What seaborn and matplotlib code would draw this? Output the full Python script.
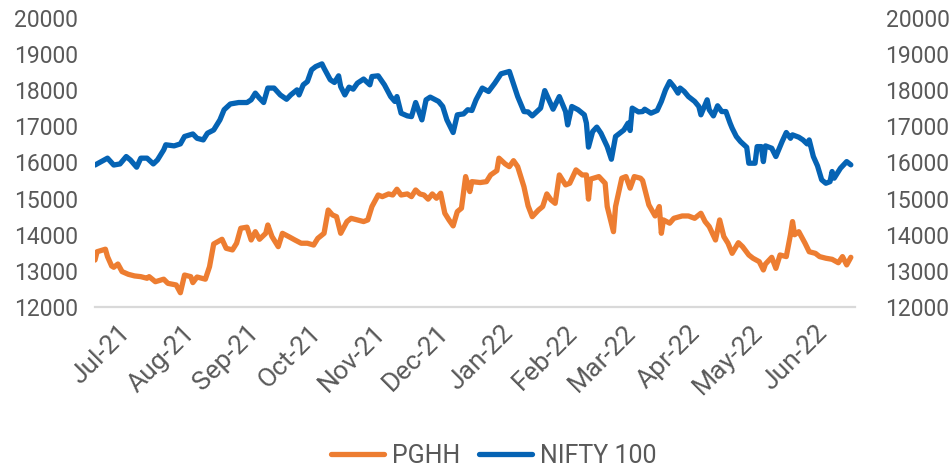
import matplotlib
matplotlib.use('Agg')
import matplotlib.pyplot as plt
import matplotlib.dates as mdates
import seaborn as sns
import pandas as pd

# ---------------- data ----------------
nifty_dates = [
    '2021-07-01', '2021-07-04', '2021-07-07', '2021-07-10', '2021-07-13', '2021-07-16',
    '2021-07-18', '2021-07-21', '2021-07-23', '2021-07-26', '2021-07-29', '2021-07-31',
    '2021-08-03', '2021-08-04', '2021-08-08', '2021-08-11', '2021-08-13', '2021-08-17',
    '2021-08-19', '2021-08-22', '2021-08-24', '2021-08-27', '2021-08-30', '2021-09-01',
    '2021-09-04', '2021-09-08', '2021-09-12', '2021-09-14', '2021-09-16', '2021-09-18',
    '2021-09-20', '2021-09-22', '2021-09-25', '2021-09-28', '2021-10-01', '2021-10-03',
    '2021-10-06', '2021-10-07', '2021-10-09', '2021-10-11', '2021-10-13', '2021-10-15',
    '2021-10-18', '2021-10-19', '2021-10-22', '2021-10-24', '2021-10-26', '2021-10-27',
    '2021-10-29', '2021-10-31', '2021-11-02', '2021-11-04', '2021-11-07', '2021-11-10',
    '2021-11-11', '2021-11-14', '2021-11-17', '2021-11-20', '2021-11-22', '2021-11-23',
    '2021-11-25', '2021-11-28', '2021-11-30', '2021-12-02', '2021-12-05', '2021-12-07',
    '2021-12-09', '2021-12-13', '2021-12-15', '2021-12-17', '2021-12-20', '2021-12-22',
    '2021-12-25', '2021-12-27', '2021-12-29', '2021-12-31', '2022-01-03', '2022-01-06',
    '2022-01-09', '2022-01-12', '2022-01-16', '2022-01-20', '2022-01-23', '2022-01-25',
    '2022-01-27', '2022-01-31', '2022-02-02', '2022-02-04', '2022-02-06', '2022-02-09',
    '2022-02-12', '2022-02-13', '2022-02-15', '2022-02-18', '2022-02-21', '2022-02-22',
    '2022-02-23', '2022-02-25', '2022-02-27', '2022-03-01', '2022-03-04', '2022-03-06',
    '2022-03-08', '2022-03-12', '2022-03-14', '2022-03-15', '2022-03-16', '2022-03-19',
    '2022-03-21', '2022-03-22', '2022-03-25', '2022-03-28', '2022-03-30', '2022-04-01',
    '2022-04-03', '2022-04-05', '2022-04-07', '2022-04-08', '2022-04-10', '2022-04-12',
    '2022-04-15', '2022-04-17', '2022-04-18', '2022-04-21', '2022-04-22', '2022-04-24',
    '2022-04-26', '2022-04-28', '2022-04-30', '2022-05-02', '2022-05-03', '2022-05-05',
    '2022-05-07', '2022-05-10', '2022-05-11', '2022-05-14', '2022-05-15', '2022-05-17',
    '2022-05-18', '2022-05-19', '2022-05-22', '2022-05-24', '2022-05-27', '2022-05-29',
    '2022-05-31', '2022-06-01', '2022-06-04', '2022-06-06', '2022-06-08', '2022-06-09',
    '2022-06-11', '2022-06-13', '2022-06-15', '2022-06-17', '2022-06-19', '2022-06-20',
    '2022-06-21', '2022-06-24', '2022-06-27', '2022-06-29',
]
nifty_values = [
    15930, 16025, 16120, 15930, 15960, 16165,
    16070, 15870, 16120, 16120, 15960, 16070,
    16350, 16490, 16460, 16515, 16720, 16790,
    16670, 16625, 16810, 16900, 17180, 17460,
    17620, 17660, 17660, 17735, 17920, 17780,
    17660, 18060, 18060, 17870, 17750, 17870,
    18010, 17870, 18150, 18240, 18565, 18655,
    18730, 18610, 18290, 18215, 18400, 18100,
    17870, 18085, 18030, 18195, 18310, 18150,
    18380, 18400, 18150, 17825, 17690, 17825,
    17365, 17290, 17270, 17660, 17180, 17735,
    17810, 17690, 17550, 17180, 16830, 17320,
    17345, 17460, 17440, 17735, 18060, 17965,
    18195, 18455, 18520, 17825, 17410, 17400,
    17290, 17505, 17990, 17735, 17475, 17825,
    17410, 17040, 17550, 17460, 17320, 17090,
    16425, 16855, 16980, 16810, 16440, 16090,
    16720, 16900, 17090, 16885, 17505, 17400,
    17410, 17475, 17365, 17440, 17690, 18010,
    18240, 18100, 17920, 18060, 17965, 17825,
    17690, 17550, 17320, 17735, 17460, 17290,
    17570, 17410, 17410, 17090, 16950, 16720,
    16580, 16420, 15980, 15980, 16440, 16440,
    16025, 16460, 16395, 16165, 16580, 16830,
    16670, 16765, 16700, 16625, 16515, 16625,
    16165, 15905, 15520, 15425, 15470, 15750,
    15565, 15840, 16025, 15935,
]

pghh_dates = [
    '2021-07-01', '2021-07-02', '2021-07-06', '2021-07-07', '2021-07-09', '2021-07-10',
    '2021-07-12', '2021-07-14', '2021-07-17', '2021-07-20', '2021-07-23', '2021-07-26',
    '2021-07-27', '2021-07-30', '2021-08-03', '2021-08-05', '2021-08-09', '2021-08-11',
    '2021-08-13', '2021-08-16', '2021-08-17', '2021-08-19', '2021-08-23', '2021-08-25',
    '2021-08-27', '2021-08-29', '2021-08-31', '2021-09-02', '2021-09-05', '2021-09-07',
    '2021-09-09', '2021-09-12', '2021-09-14', '2021-09-16', '2021-09-18', '2021-09-21',
    '2021-09-22', '2021-09-24', '2021-09-27', '2021-09-29', '2021-10-02', '2021-10-05',
    '2021-10-08', '2021-10-11', '2021-10-14', '2021-10-16', '2021-10-19', '2021-10-21',
    '2021-10-23', '2021-10-25', '2021-10-27', '2021-10-30', '2021-11-01', '2021-11-04',
    '2021-11-07', '2021-11-09', '2021-11-11', '2021-11-14', '2021-11-16', '2021-11-19',
    '2021-11-21', '2021-11-23', '2021-11-25', '2021-11-28', '2021-11-30', '2021-12-02',
    '2021-12-04', '2021-12-06', '2021-12-08', '2021-12-10', '2021-12-12', '2021-12-14',
    '2021-12-16', '2021-12-18', '2021-12-20', '2021-12-22', '2021-12-24', '2021-12-26',
    '2021-12-28', '2021-12-29', '2022-01-02', '2022-01-05', '2022-01-07', '2022-01-10',
    '2022-01-11', '2022-01-14', '2022-01-16', '2022-01-18', '2022-01-20', '2022-01-23',
    '2022-01-25', '2022-01-27', '2022-01-30', '2022-02-01', '2022-02-03', '2022-02-05',
    '2022-02-07', '2022-02-09', '2022-02-12', '2022-02-14', '2022-02-17', '2022-02-20',
    '2022-02-22', '2022-02-23', '2022-02-24', '2022-02-28', '2022-03-03', '2022-03-04',
    '2022-03-07', '2022-03-08', '2022-03-11', '2022-03-13', '2022-03-15', '2022-03-17',
    '2022-03-20', '2022-03-21', '2022-03-23', '2022-03-24', '2022-03-27', '2022-03-29',
    '2022-03-30', '2022-03-31', '2022-04-03', '2022-04-05', '2022-04-09', '2022-04-12',
    '2022-04-15', '2022-04-18', '2022-04-20', '2022-04-22', '2022-04-25', '2022-04-27',
    '2022-04-29', '2022-05-01', '2022-05-03', '2022-05-06', '2022-05-08', '2022-05-11',
    '2022-05-13', '2022-05-16', '2022-05-18', '2022-05-19', '2022-05-22', '2022-05-24',
    '2022-05-26', '2022-05-29', '2022-05-31', '2022-06-01', '2022-06-02', '2022-06-04',
    '2022-06-07', '2022-06-09', '2022-06-12', '2022-06-14', '2022-06-17', '2022-06-20',
    '2022-06-23', '2022-06-25', '2022-06-27', '2022-06-29',
]
pghh_values = [
    13300, 13530, 13600, 13395, 13135, 13100,
    13190, 12980, 12905, 12860, 12840, 12795,
    12840, 12700, 12770, 12655, 12610, 12395,
    12885, 12840, 12675, 12830, 12770, 13115,
    13745, 13810, 13875, 13625, 13580, 13765,
    14180, 14210, 13855, 14085, 13875, 14040,
    14270, 13950, 13670, 14040, 13950, 13855,
    13765, 13765, 13715, 13900, 14040, 14685,
    14550, 14500, 14040, 14365, 14455, 14410,
    14365, 14410, 14780, 15100, 15055, 15130,
    15100, 15260, 15100, 15130, 15055, 15240,
    15130, 15100, 14985, 15130, 15010, 15150,
    14595, 14410, 14245, 14640, 14735, 15610,
    15195, 15470, 15445, 15470, 15655, 15775,
    16120, 15960, 15885, 16050, 15885, 15330,
    14800, 14500, 14685, 14780, 15130, 14965,
    14870, 15655, 15380, 15425, 15795, 15655,
    15655, 14985, 15540, 15610, 15425, 14780,
    14085, 14780, 15565, 15610, 15290, 15610,
    15565, 15500, 15055, 14825, 14520, 14780,
    14040, 14410, 14320, 14455, 14520, 14520,
    14455, 14595, 14365, 14225, 13855, 14410,
    13950, 13765, 13485, 13780, 13670, 13440,
    13350, 13255, 13025, 13190, 13375, 13070,
    13440, 13395, 14000, 14365, 14000, 14085,
    13765, 13530, 13485, 13395, 13350, 13320,
    13225, 13395, 13165, 13375,
]

series_names = ['PGHH', 'NIFTY 100']
y_ticks = [12000, 13000, 14000, 15000, 16000, 17000, 18000, 19000, 20000]

# ---------------- styling ----------------
ORANGE = '#ED7D31'
BLUE = '#0563B4'
TEXT = '#595959'
AXIS = '#D9D9D9'

sns.set_theme(style='white')
plt.rcParams['font.family'] = ['Roboto', 'DejaVu Sans']

pghh = pd.DataFrame({'date': pd.to_datetime(pghh_dates), 'value': pghh_values})
nifty = pd.DataFrame({'date': pd.to_datetime(nifty_dates), 'value': nifty_values})

fig = plt.figure(figsize=(9.5, 4.66), dpi=100)
ax = fig.add_axes([0.1, 0.3412, 0.8, 0.6202])

sns.lineplot(data=pghh, x='date', y='value', ax=ax, color=ORANGE, linewidth=3.8,
             label=series_names[0], solid_joinstyle='round', solid_capstyle='round')
sns.lineplot(data=nifty, x='date', y='value', ax=ax, color=BLUE, linewidth=3.8,
             label=series_names[1], solid_joinstyle='round', solid_capstyle='round')

ax.set_xlim(pd.Timestamp('2021-07-01'), pd.Timestamp('2022-07-01'))
ax.set_ylim(y_ticks[0], y_ticks[-1])
ax.set_yticks(y_ticks)
ax.set_xlabel('')
ax.set_ylabel('')

for s in ['top', 'left', 'right']:
    ax.spines[s].set_visible(False)
ax.spines['bottom'].set_color(AXIS)
ax.spines['bottom'].set_linewidth(1.6)

ax.xaxis.set_major_locator(mdates.MonthLocator(bymonthday=16))
ax.xaxis.set_major_formatter(mdates.DateFormatter('%b-%y'))
ax.xaxis.set_minor_locator(mdates.MonthLocator(bymonthday=1))
ax.tick_params(axis='x', which='major', length=0, pad=16, labelsize=19, labelcolor=TEXT)
ax.tick_params(axis='x', which='minor', length=7, width=1.6, color=AXIS, direction='out')
for lab in ax.get_xticklabels():
    lab.set_rotation(45)
    lab.set_ha('right')
    lab.set_va('center')
    lab.set_rotation_mode('anchor')
ax.tick_params(axis='y', length=0, pad=12, labelsize=16.5, labelcolor=TEXT)

ax2 = ax.twinx()
ax2.set_ylim(y_ticks[0], y_ticks[-1])
ax2.set_yticks(y_ticks)
ax2.tick_params(axis='y', length=0, pad=22, labelsize=16.5, labelcolor=TEXT)
for s in ax2.spines.values():
    s.set_visible(False)
ax2.grid(False)
ax.grid(False)

handles, labels = ax.get_legend_handles_labels()
ax.get_legend().remove()
fig.legend(handles, labels, loc='center', bbox_to_anchor=(0.52, 0.022), ncol=2,
           frameon=False, fontsize=18, labelcolor=TEXT, handlelength=2.1,
           handletextpad=0.35, columnspacing=0.75, borderpad=0.2)

fig.savefig('out.png', dpi=100, facecolor='white')
